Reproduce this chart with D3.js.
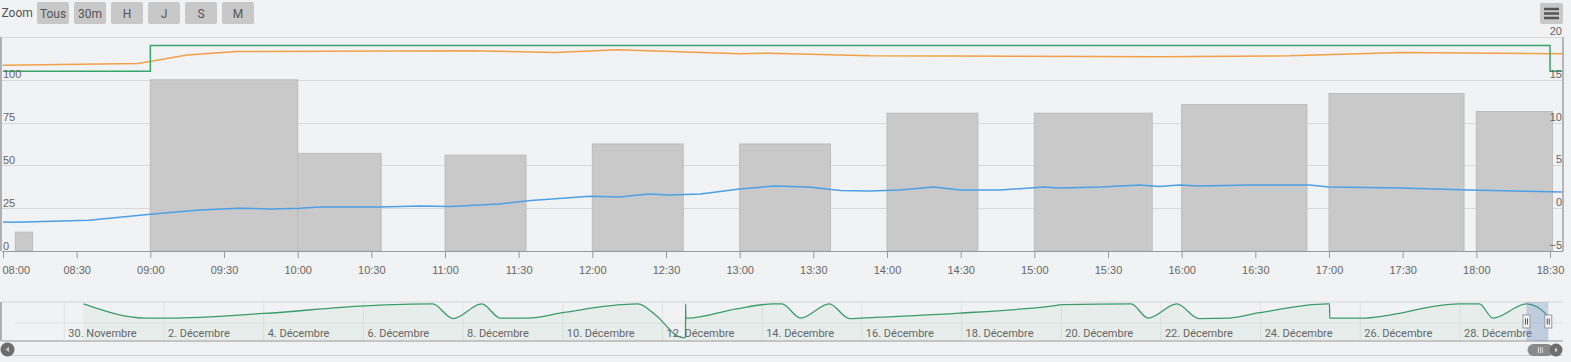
<!DOCTYPE html>
<html lang="fr">
<head>
  <meta charset="UTF-8">
  <title>Chauffage</title>
  <style>
    body { margin: 0; background: #f1f2f3; }
    svg { display: block; font-family: Roboto, "Noto Sans", sans-serif; }
  </style>
</head>
<body>
<svg width="1571" height="362"></svg>

<script src="https://cdn.jsdelivr.net/npm/d3@7"></script>
<script>
// donnees de la journee (29 decembre)
var jour = "2019-12-29 ";
var boutons = ["Tous", "30m", "H", "J", "S", "M"];

// barres : debut, fin, valeur (axe gauche, %)
var barDebut  = ["08:05", "09:00", "10:00", "11:00", "12:00", "13:00", "14:00", "15:00", "16:00", "17:00", "18:00"];
var barFin    = ["08:12", "10:00", "10:34", "11:33", "12:37", "13:37", "14:37", "15:48", "16:51", "17:55", "18:31"];
var barValeur = [11, 100, 57, 56, 62.5, 62.5, 80.5, 80.5, 85.5, 92, 81.5];
var ticksGauche = [0, 25, 50, 75, 100, 125];
var ticksDroite = [-5, 0, 5, 10, 15, 20];

// consigne (vert, axe droit)
var consigneHeures = ["08:00", "09:00", "18:30", "18:35"];
var consigneValeurs = [16, 19, 16, 16];

// temperature interieure (orange, axe droit)
var intHeures  = ["08:00", "08:55", "09:15", "09:35", "11:10", "11:45", "12:10", "13:00", "13:12", "13:53", "15:51", "16:44", "17:29", "18:35"];
var intValeurs = [16.7, 16.9, 17.9, 18.3, 18.4, 18.2, 18.5, 18.05, 18.1, 17.8, 17.7, 17.8, 18.2, 18.05];

// temperature exterieure (bleu, axe droit)
var extHeures  = ["08:00", "08:05", "08:35", "09:00", "09:20", "09:36", "09:49", "10:01", "10:09", "10:33", "10:50", "11:02", "11:22", "11:35", "11:59", "12:11", "12:23", "12:31", "12:44", "13:00", "13:14", "13:28", "13:41", "13:53", "14:05", "14:19", "14:30", "14:46", "15:04", "15:10", "15:27", "15:43", "15:51", "15:59", "16:07", "16:28", "16:52", "17:00", "17:29", "17:57", "18:35"];
var extValeurs = [-1.6, -1.65, -1.4, -0.7, -0.2, 0.0, -0.08, 0.0, 0.14, 0.14, 0.26, 0.2, 0.5, 0.9, 1.4, 1.3, 1.66, 1.55, 1.66, 2.24, 2.59, 2.47, 2.07, 2.0, 2.13, 2.48, 2.13, 2.13, 2.48, 2.36, 2.48, 2.71, 2.53, 2.71, 2.59, 2.71, 2.71, 2.48, 2.36, 2.13, 1.9];

// navigateur (tout le mois)
var navDebut = "2019-11-28 18:00", navFin = "2019-12-30 01:35";
var navDates = ["2019-11-30 09:15", "2019-12-01 15:00", "2019-12-02 02:25", "2019-12-04 00:00", "2019-12-06 00:45", "2019-12-07 09:20", "2019-12-07 19:10", "2019-12-08 09:00", "2019-12-08 17:55", "2019-12-09 07:00", "2019-12-10 00:30", "2019-12-11 04:10", "2019-12-11 12:20", "2019-12-11 20:30", "2019-12-12 09:30", "2019-12-12 11:05", "2019-12-12 11:10", "2019-12-12 11:15", "2019-12-12 12:45", "2019-12-13 11:35", "2019-12-14 05:25", "2019-12-14 09:30", "2019-12-14 18:30", "2019-12-15 08:20", "2019-12-15 18:05", "2019-12-16 00:00", "2019-12-17 23:00", "2019-12-19 17:15", "2019-12-20 01:10", "2019-12-21 09:40", "2019-12-21 17:50", "2019-12-22 07:40", "2019-12-22 18:20", "2019-12-23 08:50", "2019-12-23 23:30", "2019-12-25 08:05", "2019-12-25 09:10", "2019-12-25 09:15", "2019-12-26 00:25", "2019-12-27 23:30", "2019-12-28 09:20", "2019-12-28 15:50", "2019-12-29 08:05", "2019-12-29 17:45", "2019-12-29 18:30"];
var navValeurs = [19, 16.1, 16.1, 17.05, 18.6, 19, 16.0, 19, 16.1, 16.1, 17.25, 18.85, 19, 16.8, 12.1, 12.1, 19, 16.1, 16.1, 18.0, 19, 19, 16.1, 19, 16.0, 16.1, 17.1, 18.45, 18.85, 19, 16.1, 19, 16.0, 16.1, 17.2, 19, 19, 16.1, 16.1, 19, 19, 16.1, 19, 16.8, 16.2];
var navTickDebut = "2019-11-30 00:00", navTickFin = "2019-12-29 00:00";
var selDebut = "2019-12-29 08:00", selFin = "2019-12-29 18:30";

var parseD = d3.timeParse("%Y-%m-%d %H:%M");
function h(s) { return parseD(jour + s); }

var fr = d3.timeFormatLocale({
  dateTime: "%A %e %B %Y %X", date: "%d/%m/%Y", time: "%H:%M:%S", periods: ["AM", "PM"],
  days: ["dimanche", "lundi", "mardi", "mercredi", "jeudi", "vendredi", "samedi"],
  shortDays: ["dim.", "lun.", "mar.", "mer.", "jeu.", "ven.", "sam."],
  months: ["Janvier", "Février", "Mars", "Avril", "Mai", "Juin", "Juillet", "Août", "Septembre", "Octobre", "Novembre", "Décembre"],
  shortMonths: ["janv.", "févr.", "mars", "avr.", "mai", "juin", "juil.", "août", "sept.", "oct.", "nov.", "déc."]
});

var svg = d3.select("svg");
var gauche = 2, droite = 1563, haut = 37, bas = 251;

// ---- boutons zoom
svg.append("text").attr("x", 1.5).attr("y", 17).attr("font-size", 12).attr("fill", "#555").text("Zoom");
var gb = svg.selectAll("g.btn").data(boutons).enter().append("g")
  .attr("transform", function(d, i) { return "translate(" + (37 + i * 37) + ",2)"; });
gb.append("rect").attr("width", 32).attr("height", 22).attr("rx", 2).attr("fill", "#c8c8c8");
gb.append("text").attr("x", 16).attr("y", 15.5).attr("text-anchor", "middle")
  .attr("font-size", 12).attr("fill", "#555").text(function(d) { return d; });

// menu
var menu = svg.append("g").attr("transform", "translate(1540,3)");
menu.append("rect").attr("width", 23).attr("height", 21).attr("rx", 2).attr("fill", "#c8c8c8");
[6, 10.5, 15].forEach(function(y) {
  menu.append("line").attr("x1", 4).attr("x2", 19).attr("y1", y).attr("y2", y)
    .attr("stroke", "#555").attr("stroke-width", 2.5);
});

// ---- echelles
var x = d3.scaleTime().domain([h("08:00"), h("18:30")]).range([3, 1550]);
var yG = d3.scaleLinear().domain([0, 125]).range([bas, haut]);
var yD = d3.scaleLinear().domain([-5, 20]).range([bas, haut]);

svg.append("clipPath").attr("id", "clip").append("rect")
  .attr("x", gauche).attr("y", haut - 5).attr("width", droite - gauche).attr("height", bas - haut + 5);

// grille
svg.append("g").selectAll("line").data(ticksGauche).enter().append("line")
  .attr("x1", gauche).attr("x2", droite)
  .attr("y1", function(d) { return Math.round(yG(d)) + 0.5; }).attr("y2", function(d) { return Math.round(yG(d)) + 0.5; })
  .attr("stroke", "#d9d9d9");

var plot = svg.append("g").attr("clip-path", "url(#clip)");

// barres
plot.selectAll("rect.bar").data(barValeur).enter().append("rect")
  .attr("x", function(d, i) { return x(h(barDebut[i])); })
  .attr("width", function(d, i) { return x(h(barFin[i])) - x(h(barDebut[i])); })
  .attr("y", function(d) { return yG(d); })
  .attr("height", function(d) { return bas - yG(d); })
  .attr("fill", "#c9c9ca").attr("stroke", "#bcbcbc");

function serie(heures, valeurs, couleur, courbe) {
  var pts = heures.map(function(t, i) { return [h(t), valeurs[i]]; });
  plot.append("path").datum(pts)
    .attr("fill", "none").attr("stroke", couleur).attr("stroke-width", 1.5)
    .attr("d", d3.line().x(function(d) { return x(d[0]); }).y(function(d) { return yD(d[1]); }).curve(courbe));
}
serie(extHeures, extValeurs, "#4d9fe6", d3.curveLinear);
serie(intHeures, intValeurs, "#f2a048", d3.curveLinear);
serie(consigneHeures, consigneValeurs, "#36a56a", d3.curveStepAfter);

// axes
svg.append("rect").attr("x", 0).attr("y", haut).attr("width", 2).attr("height", bas - haut).attr("fill", "#b0b0b0");
svg.append("line").attr("x1", droite).attr("x2", droite).attr("y1", haut).attr("y2", bas)
  .attr("stroke", "#a0a0a0").attr("stroke-width", 1.5);

var axeX = svg.append("g").attr("transform", "translate(0," + bas + ")")
  .call(d3.axisBottom(x).ticks(d3.timeMinute.every(30)).tickFormat(d3.timeFormat("%H:%M")).tickSize(7).tickPadding(8));
axeX.select(".domain").attr("d", "M" + gauche + ",0.5H" + droite).attr("stroke", "#999");
axeX.selectAll(".tick line").attr("stroke", "#999");
axeX.selectAll(".tick text").attr("font-size", 11).attr("fill", "#666").attr("font-family", null);
axeX.select(".tick text").attr("text-anchor", "start").attr("x", -1);

var axeG = svg.append("g").attr("transform", "translate(3,0)")
  .call(d3.axisRight(yG).tickValues(ticksGauche.slice(0, 5)).tickSize(0).tickPadding(0));
axeG.select(".domain").remove();
axeG.selectAll(".tick text").attr("font-size", 11).attr("fill", "#666").attr("font-family", null)
  .attr("dy", "-2px").attr("x", 0);

var axeD = svg.append("g").attr("transform", "translate(1562,0)")
  .call(d3.axisLeft(yD).tickValues(ticksDroite).tickSize(0).tickPadding(0));
axeD.select(".domain").remove();
axeD.selectAll(".tick text").attr("font-size", 11).attr("fill", "#666").attr("font-family", null)
  .attr("dy", "-2.5px").attr("x", 0);

// ---- navigateur
var nHaut = 302, nBas = 341;
var xn = d3.scaleTime().domain([parseD(navDebut), parseD(navFin)]).range([gauche, droite]);
var yn = d3.scaleLinear().domain([11.4, 19.4]).range([nBas, nHaut]);
var nav = svg.append("g");

nav.append("line").attr("x1", gauche).attr("x2", droite).attr("y1", nHaut).attr("y2", nHaut).attr("stroke", "#d4d4d4");
nav.append("line").attr("x1", 15).attr("x2", droite).attr("y1", 323).attr("y2", 323).attr("stroke", "#e2e2e2");
var navTicks = d3.timeDay.range(parseD(navTickDebut), d3.timeDay.offset(parseD(navTickFin), 1), 2);
nav.selectAll("line.vg").data(navTicks).enter().append("line")
  .attr("x1", function(d) { return xn(d); }).attr("x2", function(d) { return xn(d); })
  .attr("y1", nHaut).attr("y2", nBas).attr("stroke", "#e2e2e2");

var navPts = navDates.map(function(t, i) { return [parseD(t), navValeurs[i]]; });
nav.append("path").datum(navPts).attr("fill", "#3a9d68").attr("fill-opacity", 0.05)
  .attr("d", d3.area().x(function(d) { return xn(d[0]); }).y0(nBas).y1(function(d) { return yn(d[1]); }).curve(d3.curveMonotoneX));
nav.append("path").datum(navPts).attr("fill", "none").attr("stroke", "#3a9d68").attr("stroke-width", 1.3)
  .attr("d", d3.line().x(function(d) { return xn(d[0]); }).y(function(d) { return yn(d[1]); }).curve(d3.curveMonotoneX));

nav.selectAll("text.nl").data(navTicks).enter().append("text")
  .attr("x", function(d) { return xn(d) + 4; }).attr("y", 337)
  .attr("font-size", 11).attr("fill", "#666").text(fr.format("%-d. %B"));

nav.append("rect").attr("x", 0).attr("y", nHaut).attr("width", 2).attr("height", nBas - nHaut).attr("fill", "#b0b0b0");
nav.append("line").attr("x1", gauche).attr("x2", droite).attr("y1", nBas).attr("y2", nBas).attr("stroke", "#c4c4c4").attr("stroke-width", 2);

// selection
var s0 = xn(parseD(selDebut)), s1 = xn(parseD(selFin));
nav.append("rect").attr("x", s0).attr("y", nHaut).attr("width", s1 - s0).attr("height", nBas - nHaut)
  .attr("fill", "rgb(102,133,194)").attr("fill-opacity", 0.3);
[s0, s1].forEach(function(sx) {
  var g = nav.append("g").attr("transform", "translate(" + (sx - 3.5) + ",315)");
  g.append("rect").attr("width", 7).attr("height", 13).attr("fill", "#f2f2f2").attr("stroke", "#999");
  g.append("line").attr("x1", 2.5).attr("x2", 2.5).attr("y1", 3.5).attr("y2", 9.5).attr("stroke", "#555");
  g.append("line").attr("x1", 4.5).attr("x2", 4.5).attr("y1", 3.5).attr("y2", 9.5).attr("stroke", "#555");
});

// barre de defilement
var sb = svg.append("g");
sb.append("line").attr("x1", 10).attr("x2", droite).attr("y1", 355.5).attr("y2", 355.5).attr("stroke", "#d0d0d0");
sb.append("circle").attr("cx", 7.5).attr("cy", 349.5).attr("r", 7).attr("fill", "#6e6e6e");
sb.append("path").attr("d", "M9,347 L5.5,349.5 L9,352 Z").attr("fill", "#cfcfcf");
sb.append("rect").attr("x", s0 + 1).attr("y", 344).attr("width", s1 - s0 + 4).attr("height", 12).attr("rx", 6).attr("fill", "#8a8a8a");
[-2, 0, 2].forEach(function(dx) {
  sb.append("line").attr("x1", (s0 + s1) / 2 + 3 + dx).attr("x2", (s0 + s1) / 2 + 3 + dx)
    .attr("y1", 347).attr("y2", 353).attr("stroke", "#dcdcdc");
});
sb.append("circle").attr("cx", 1556).attr("cy", 350).attr("r", 6.5).attr("fill", "#6e6e6e");
sb.append("path").attr("d", "M1555,347.5 L1558,350 L1555,352.5 Z").attr("fill", "#cfcfcf");
</script>
</body>
</html>
